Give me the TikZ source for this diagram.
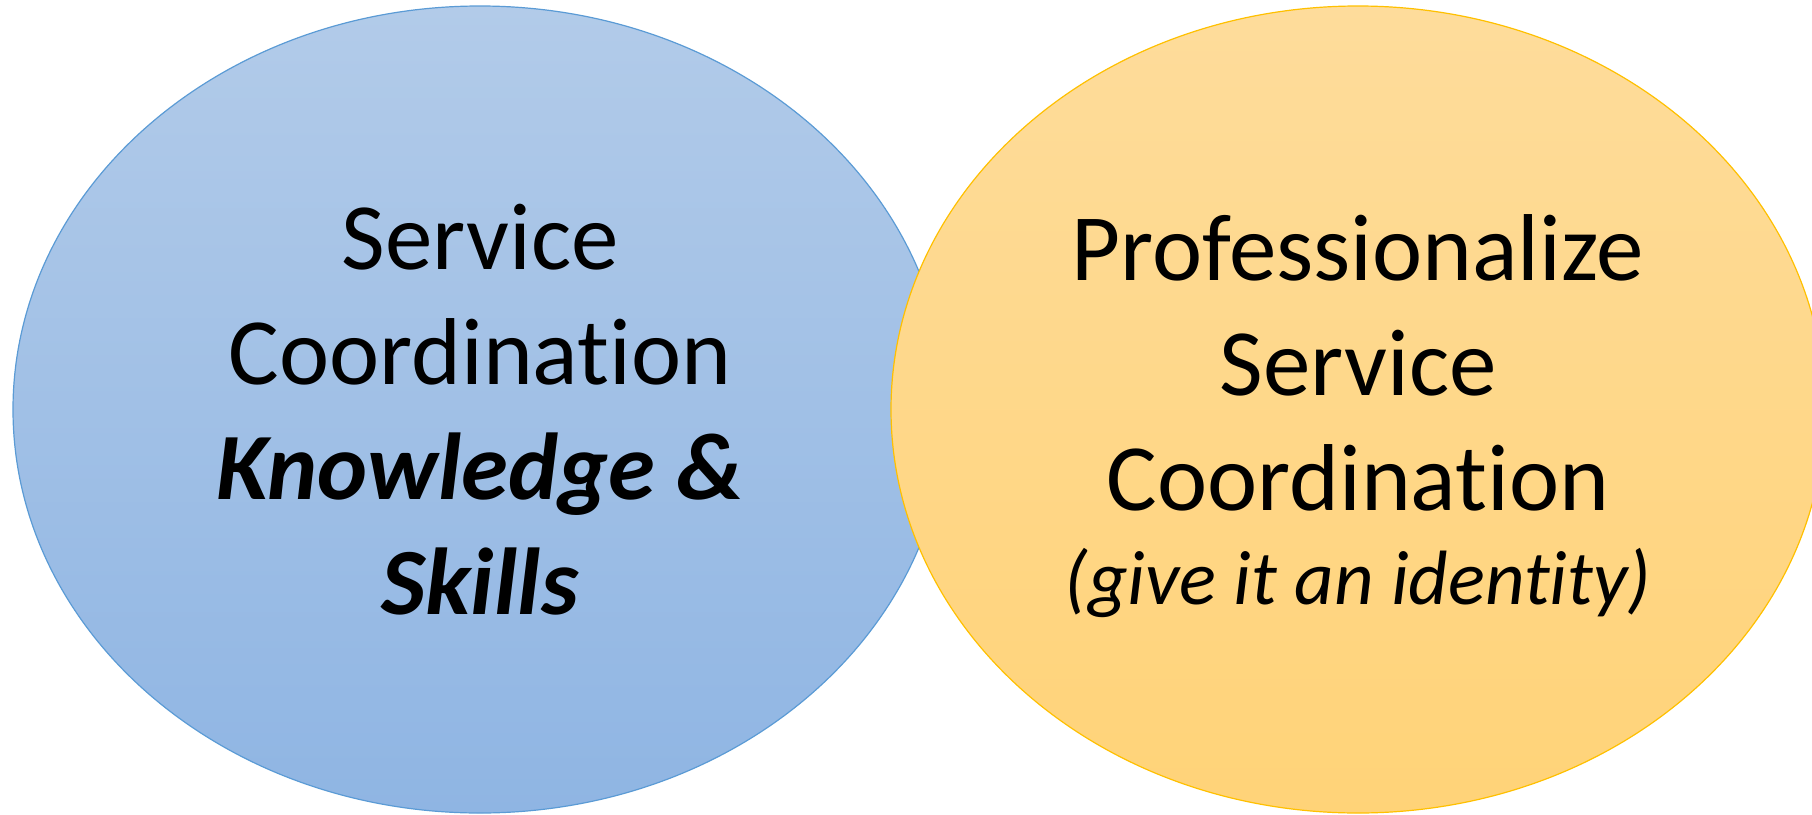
\documentclass[tikz,border=0pt]{standalone}
\usepackage{fontspec}
\setmainfont{Carlito}[Ligatures={NoCommon}]
\usepackage{xcolor}
\usepackage{tikz}
\usetikzlibrary{shapes, positioning}

\definecolor{blueTop}{RGB}{178,203,233}
\definecolor{blueBot}{RGB}{143,181,227}
\definecolor{blueEdge}{RGB}{91,155,213}
\definecolor{goldTop}{RGB}{254,220,155}
\definecolor{goldBot}{RGB}{255,211,120}
\definecolor{goldEdge}{RGB}{255,192,0}

\begin{document}
\begin{tikzpicture}[x=1pt, y=-1pt]
  \tikzset{venn/.style={ellipse, draw, line width=1.2pt, minimum width=934pt, minimum height=807pt,
      inner sep=0pt, align=center, font=\fontsize{95}{115}\selectfont}}

  \clip (0,0) rectangle (1812,814);
  \useasboundingbox (0,0) rectangle (1812,814);

  % left set, right set drawn over it
  \node[venn, draw=blueEdge, top color=blueTop, bottom color=blueBot] (skills) at (480,409.5)
    {Service\\Coordination\\\textbf{\textit{Knowledge \&}}\\\textbf{\textit{Skills}}};
  \node[venn, draw=goldEdge, top color=goldTop, bottom color=goldBot] (ident) at (1358,409.5)
    {\rule{0pt}{79pt}Professionalize\\Service\\Coordination\\[-21pt]{\fontsize{77}{94}\selectfont\itshape (give it an identity)}};

\end{tikzpicture}
\end{document}
